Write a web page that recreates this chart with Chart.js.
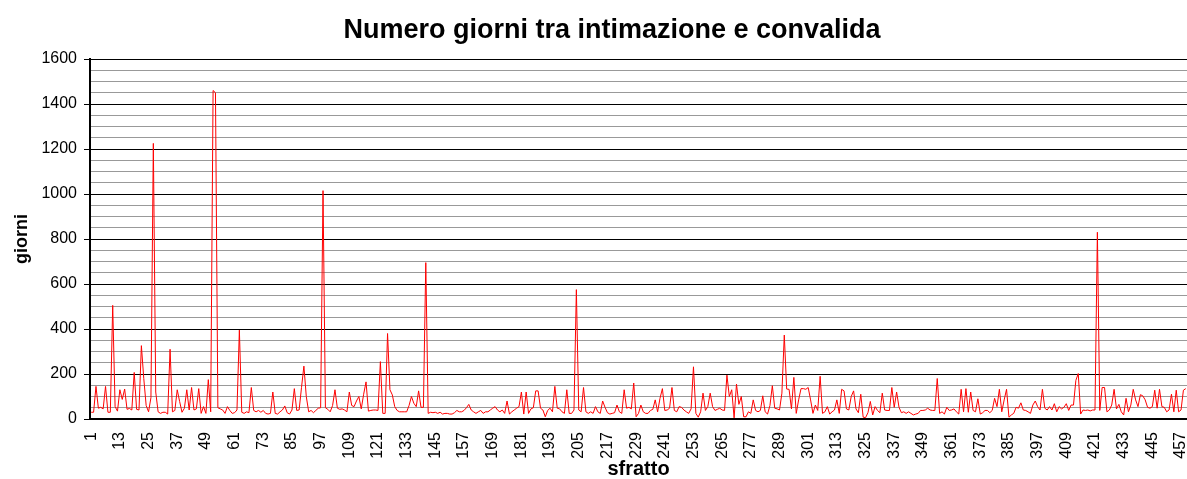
<!DOCTYPE html>
<html lang="it">

<head>
    <meta charset="UTF-8">
    <title>Numero giorni tra intimazione e convalida</title>
    <style>
        body { margin: 0; background: #fff; }
        #wrap { width: 1187px; height: 479px; position: relative; }
    </style>
</head>

<body>

    <div id="wrap">
        <canvas id="myChart"></canvas>
    </div>

    <script src="https://cdn.jsdelivr.net/npm/chart.js@4.4.1/dist/chart.umd.min.js"></script>

    <script>
        // giorni per sfratto (a occhio)
        var giorni = [
            30, 30, 145, 48, 52, 45, 145, 30, 30, 505,
            55, 35, 130, 87, 133, 43, 47, 40, 207, 43,
            40, 326, 180, 60, 32, 95, 1225, 120, 32, 25,
            30, 30, 22, 310, 32, 38, 130, 78, 30, 48,
            130, 40, 140, 40, 45, 135, 25, 55, 25, 175,
            32, 1460, 1450, 50, 45, 40, 25, 55, 38, 25,
            28, 40, 395, 30, 25, 32, 28, 140, 38, 32,
            38, 30, 38, 25, 22, 25, 120, 25, 22, 32,
            40, 58, 28, 22, 40, 135, 38, 40, 140, 235,
            100, 32, 38, 28, 38, 48, 50, 1015, 50, 43,
            32, 60, 130, 48, 43, 45, 40, 32, 120, 60,
            55, 80, 100, 45, 110, 165, 35, 38, 40, 40,
            38, 255, 25, 25, 380, 130, 107, 55, 38, 32,
            32, 32, 32, 60, 100, 70, 55, 125, 52, 52,
            695, 25, 30, 28, 30, 25, 30, 22, 25, 25,
            22, 22, 28, 38, 32, 32, 38, 50, 65, 40,
            32, 25, 32, 38, 25, 32, 32, 40, 48, 55,
            40, 32, 40, 25, 80, 22, 32, 40, 48, 55,
            120, 22, 120, 25, 45, 50, 125, 125, 48, 40,
            10, 38, 48, 32, 145, 48, 45, 32, 25, 130,
            25, 25, 40, 575, 40, 32, 140, 32, 25, 32,
            25, 55, 32, 25, 80, 52, 28, 22, 25, 28,
            62, 32, 25, 130, 48, 52, 45, 160, 10, 25,
            62, 32, 25, 25, 38, 43, 85, 32, 92, 135,
            38, 40, 48, 140, 38, 32, 55, 52, 40, 32,
            25, 45, 232, 25, 8, 32, 115, 38, 55, 115,
            55, 38, 43, 48, 40, 38, 195, 100, 130, 5,
            155, 65, 100, 10, 10, 32, 25, 85, 38, 32,
            38, 103, 32, 22, 60, 148, 48, 45, 40, 115,
            373, 133, 132, 45, 185, 25, 85, 135, 135, 132,
            140, 85, 25, 62, 38, 190, 25, 32, 55, 22,
            32, 40, 85, 25, 132, 125, 45, 40, 100, 125,
            45, 28, 110, 8, 6, 28, 78, 18, 55, 38,
            28, 115, 40, 38, 38, 140, 52, 120, 52, 28,
            32, 25, 32, 25, 18, 22, 25, 38, 38, 40,
            48, 40, 38, 38, 180, 25, 32, 22, 52, 38,
            40, 45, 32, 22, 132, 32, 135, 30, 120, 38,
            32, 90, 22, 28, 38, 38, 28, 38, 92, 55,
            132, 32, 85, 132, 8, 18, 25, 52, 48, 72,
            40, 38, 32, 25, 62, 80, 55, 40, 132, 48,
            40, 55, 40, 68, 32, 55, 45, 52, 68, 38,
            62, 62, 172, 202, 22, 40, 38, 40, 36, 40,
            40, 830, 38, 140, 140, 32, 40, 62, 132, 45,
            65, 32, 18, 92, 32, 62, 132, 85, 55, 108,
            103, 85, 52, 48, 55, 128, 48, 132, 55, 52,
            32, 40, 110, 32, 128, 32, 40, 128, 135
        ];

        // numero dello sfratto: 1, 2, 3 ...
        var sfratti = giorni.map(function (v, i) { return String(i + 1); });

        var labelEvery = 12;          // etichette asse x: 1, 13, 25 ...
        var yMajor = 200;             // linee nere + etichette
        var yMinor = 50;              // linee grigie
        var yMax = 1600;

        var titolo = 'Numero giorni tra intimazione e convalida';

        var titlePlugin = {
            id: 'titoloFisso',
            afterDraw: function (chart) {
                var ctx = chart.ctx;
                ctx.save();
                ctx.font = 'bold 27px "Liberation Sans", Arial, sans-serif';
                ctx.fillStyle = '#000';
                ctx.textAlign = 'center';
                ctx.textBaseline = 'middle';
                ctx.fillText(titolo, 612, 31);
                ctx.restore();
            }
        };

        document.addEventListener("DOMContentLoaded", function () {
            var ctx = document.getElementById('myChart').getContext('2d');

            var myChart = new Chart(ctx, {
                type: 'line',
                data: {
                    labels: sfratti,
                    datasets: [{
                        data: giorni,
                        borderColor: '#ff0000',
                        borderWidth: 1,
                        pointRadius: 0,
                        tension: 0,
                        fill: false
                    }]
                },
                options: {
                    responsive: true,
                    maintainAspectRatio: false,
                    animation: false,
                    devicePixelRatio: 1,
                    layout: { padding: { top: 59, left: 0, right: 0, bottom: 0 } },
                    plugins: {
                        legend: { display: false },
                        tooltip: { enabled: false },
                        title: { display: false }
                    },
                    scales: {
                        x: {
                            offset: true,
                            grid: { display: false },
                            border: { display: true, color: '#000', width: 2 },
                            ticks: {
                                autoSkip: false,
                                minRotation: 90,
                                maxRotation: 90,
                                padding: 5,
                                color: '#000',
                                font: { family: '"Liberation Sans", Arial', size: 16 },
                                callback: function (val, index) {
                                    return index % labelEvery === 0 ? this.getLabelForValue(val) : '';
                                }
                            },
                            title: {
                                display: true,
                                text: 'sfratto',
                                color: '#000',
                                padding: { top: 0, bottom: -2 },
                                font: { family: '"Liberation Sans", Arial', size: 20, weight: 'bold' }
                            },
                            afterFit: function (scale) {
                                scale.height = 60;
                                scale.paddingLeft = 0;
                                scale.paddingRight = 0;
                            }
                        },
                        y: {
                            min: 0,
                            max: yMax,
                            grid: {
                                color: function (c) {
                                    return c.tick && c.tick.value % yMajor === 0 ? '#000' : '#999999';
                                },
                                tickColor: function (c) {
                                    return c.tick && c.tick.value % yMajor === 0 ? '#000' : 'rgba(0,0,0,0)';
                                },
                                tickLength: 6,
                                lineWidth: 1
                            },
                            border: { display: true, color: '#000', width: 2 },
                            ticks: {
                                stepSize: yMinor,
                                autoSkip: false,
                                padding: 7,
                                color: '#000',
                                font: { family: '"Liberation Sans", Arial', size: 16 },
                                callback: function (v) {
                                    return v % yMajor === 0 ? v : '';
                                }
                            },
                            title: {
                                display: true,
                                text: 'giorni',
                                color: '#000',
                                padding: { top: 11, bottom: 0 },
                                font: { family: '"Liberation Sans", Arial', size: 18, weight: 'bold' }
                            },
                            afterFit: function (scale) {
                                scale.width = 90;
                            }
                        }
                    }
                },
                plugins: [titlePlugin]
            });
        });
    </script>
</body>

</html>
